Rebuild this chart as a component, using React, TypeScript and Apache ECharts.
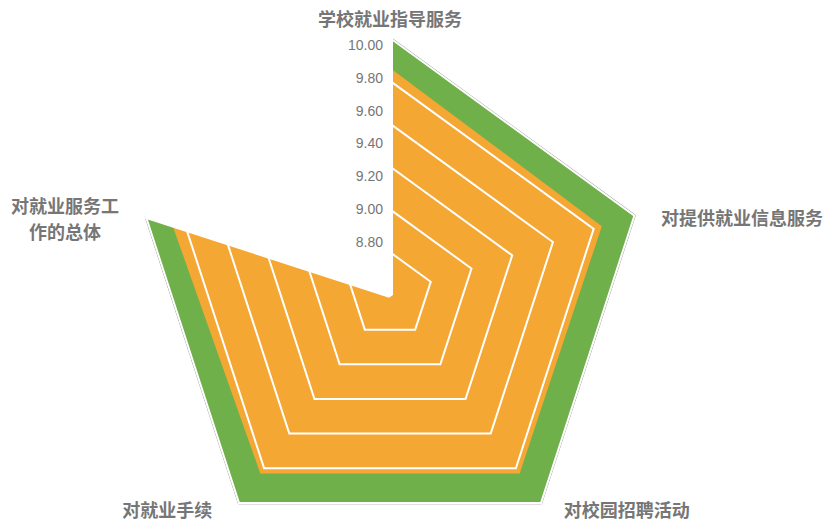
import React, { useEffect, useRef } from "react";
import * as echarts from "echarts";

// Categories in clockwise order starting from the top
const categories = [
  "学校就业指导服务",
  "对提供就业信息服务",
  "对校园招聘活动",
  "对就业手续",
  "对就业服务工\n作的总体",
];
const greenValues = [10.0, 10.0, 10.0, 10.0, 10.0];
const orangeValues = [9.86, 9.84, 9.83, 9.83, 9.87];
const tickValues = [8.8, 9.0, 9.2, 9.4, 9.6, 9.8, 10.0];

const RADAR_MIN = 8.8;
const RADAR_MAX = 10.0;
const CX = 390;
const CY = 295;
const R = 257;

const GREEN = "#70b04a";
const ORANGE = "#f5a733";
const TEXT = "#767676";

// ECharts lays indicators out counter-clockwise; map clockwise data to that order
const order = [0, 4, 3, 2, 1];
const nameGaps = [9, 28, 8, 8, 28];
const richKeys = ["t", "r", "br", "bl", "l"];

const baseName = {
  color: TEXT,
  fontSize: 18,
  fontWeight: "bold" as const,
  fontFamily: "Noto Sans CJK SC",
  lineHeight: 23,
};

export default function App() {
  const ref = useRef<HTMLDivElement>(null);
  useEffect(() => {
    if (!ref.current) return;
    const chart = echarts.init(ref.current, undefined, { renderer: "svg" });
    const pt = (v: number, k: number) => {
      const a = ((90 + 72 * k) * Math.PI) / 180;
      const rr = (R * (v - RADAR_MIN)) / (RADAR_MAX - RADAR_MIN);
      return [CX + rr * Math.cos(a), CY - rr * Math.sin(a)];
    };
    const gOrdered = order.map((i) => greenValues[i]);
    const oOrdered = order.map((i) => orangeValues[i]);
    chart.setOption({
      animation: false,
      backgroundColor: "#ffffff",
      radar: {
        center: [CX, CY],
        radius: R,
        startAngle: 90,
        shape: "polygon",
        splitNumber: 6,
        z: 3,
        axisName: {
          ...baseName,
          formatter: (name: string) => {
            const idx = categories.indexOf(name);
            const key = richKeys[idx];
            if (key === "l") {
              const lines = name.split("\n");
              return `{sp| }\n{l|${lines[0]}}\n{l|${lines[1]}}`;
            }
            return `{${key}|${name}}`;
          },
          rich: {
            t: { ...baseName },
            r: { ...baseName, padding: [20, 0, 0, 0] },
            br: { ...baseName, padding: [0, 0, 0, 18] },
            bl: { ...baseName, padding: [0, 22, 0, 0] },
            sp: { ...baseName },
            l: { ...baseName, lineHeight: 26, width: 108, align: "center" },
          },
        },
        axisLine: { show: false },
        axisTick: { show: false },
        axisLabel: { show: false },
        splitArea: { show: false },
        splitLine: {
          lineStyle: {
            color: ["#ffffff", "#ffffff", "#ffffff", "#ffffff", "#ffffff", "#ffffff", "rgba(0,0,0,0)"],
            width: 2,
          },
        },
        indicator: order.map((i) => ({
          name: categories[i],
          min: RADAR_MIN,
          max: RADAR_MAX,
          nameGap: nameGaps[i],
        })),
      },
      grid: { left: CX + 1, top: 45, width: 20, height: 229.8 },
      xAxis: { type: "value", show: false },
      yAxis: {
        type: "value",
        min: 8.6,
        max: 10.0,
        interval: 0.2,
        z: 10,
        axisLine: { show: false },
        axisTick: { show: false },
        splitLine: { show: false },
        axisLabel: {
          customValues: tickValues,
          formatter: (v: number) => v.toFixed(2),
          margin: 8,
          color: TEXT,
          fontSize: 14,
          fontFamily: "Liberation Sans",
        },
      },
      graphic: [
        {
          type: "polygon",
          z: 5,
          silent: true,
          shape: { points: [pt(gOrdered[0], 0), pt(gOrdered[1], 1), [CX, CY]] },
          style: { fill: "#ffffff", stroke: "#ffffff", lineWidth: 6, lineJoin: "bevel" },
        },
      ],
      series: [
        {
          type: "radar",
          z: 1,
          symbol: "none",
          lineStyle: { color: "#808080", width: 2.5 },
          areaStyle: { color: GREEN, opacity: 1 },
          itemStyle: { color: GREEN },
          data: [
            {
              value: gOrdered,
              areaStyle: { color: GREEN, opacity: 1 },
              lineStyle: { color: "#808080", width: 2.5 },
            },
          ],
        },
        {
          type: "radar",
          z: 2,
          symbol: "none",
          lineStyle: { width: 0, opacity: 0 },
          areaStyle: { color: ORANGE, opacity: 1 },
          itemStyle: { color: ORANGE },
          data: [
            {
              value: oOrdered,
              areaStyle: { color: ORANGE, opacity: 1 },
              lineStyle: { width: 0, opacity: 0 },
            },
          ],
        },
      ],
    });
    return () => chart.dispose();
  }, []);
  return (
    <div
      ref={ref}
      style={{ position: "fixed", left: 0, top: 0, width: 824, height: 523, background: "#fff" }}
    />
  );
}
